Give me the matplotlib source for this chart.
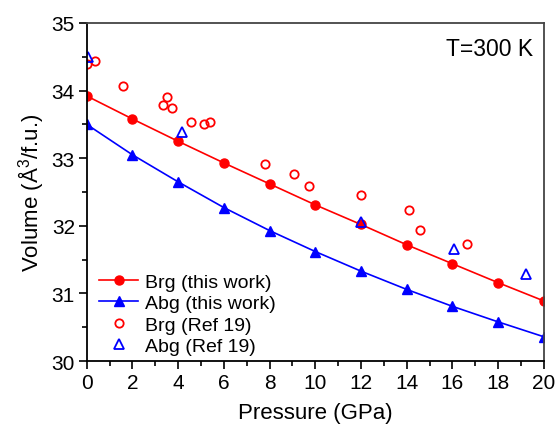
import matplotlib.pyplot as plt
from matplotlib.ticker import MultipleLocator

plt.rcParams['font.family'] = ['Liberation Sans', 'DejaVu Sans']
plt.rcParams['mathtext.fontset'] = 'custom'
plt.rcParams['mathtext.rm'] = 'Liberation Sans'

# this work
pressure = [0, 2, 4, 6, 8, 10, 12, 14, 16, 18, 20]
brg_vol = [33.92, 33.58, 33.25, 32.93, 32.62, 32.31, 32.02, 31.72, 31.44, 31.16, 30.89]
abg_vol = [33.50, 33.05, 32.65, 32.27, 31.93, 31.62, 31.33, 31.06, 30.81, 30.58, 30.36]

# Ref 19
brg_ref_p = [0.0, 0.38, 1.59, 3.34, 3.53, 3.71, 4.58, 5.12, 5.41, 7.8, 9.09, 9.73, 12.02, 14.09, 14.6, 16.64]
brg_ref_v = [34.39, 34.43, 34.07, 33.78, 33.90, 33.74, 33.54, 33.51, 33.54, 32.91, 32.77, 32.59, 32.45, 32.24, 31.94, 31.73]
abg_ref_p = [0.05, 4.17, 12.02, 16.06, 19.21]
abg_ref_v = [34.49, 33.38, 32.05, 31.66, 31.29]

fig = plt.figure(figsize=(5.56, 4.27), dpi=100)
ax = fig.add_axes([0.156, 0.152, 0.822, 0.792])

ax.plot(pressure, brg_vol, '-o', color='red', lw=1.2, ms=6.5, label='Brg (this work)')
ax.plot(pressure, abg_vol, '-^', color='blue', lw=1.2, ms=7, label='Abg (this work)')
ax.plot(brg_ref_p, brg_ref_v, 'o', mfc='none', mec='red', mew=1.3, ms=6, label='Brg (Ref 19)')
ax.plot(abg_ref_p, abg_ref_v, '^', mfc='none', mec='blue', mew=1.3, ms=7, label='Abg (Ref 19)')

ax.set_xlim(0, 20)
ax.set_ylim(30, 35)
ax.xaxis.set_major_locator(MultipleLocator(2))
ax.xaxis.set_minor_locator(MultipleLocator(1))
ax.yaxis.set_major_locator(MultipleLocator(1))
ax.yaxis.set_minor_locator(MultipleLocator(0.5))
ax.tick_params(which='major', direction='out', length=6, width=1.2, labelsize=15, pad=2.5)
ax.tick_params(which='minor', direction='out', length=3.5, width=1.2)

for s in ['left', 'bottom']:
    ax.spines[s].set_linewidth(1.3)
    ax.spines[s].set_color('black')
for s in ['top', 'right']:
    ax.spines[s].set_linewidth(1.3)
    ax.spines[s].set_color('#444444')

ax.set_xlabel('Pressure (GPa)', fontsize=16, labelpad=7)
ax.set_ylabel('Volume (Å$^3$/f.u.)', fontsize=16, labelpad=4)

ax.text(0.976, 0.958, 'T=300 K', transform=ax.transAxes, ha='right', va='top', fontsize=16.5)

ax.legend(loc='lower left', frameon=False, fontsize=14, handlelength=2.0,
          labelspacing=0.2, handletextpad=0.35, borderaxespad=0.25,
          bbox_to_anchor=(0.0, -0.02))

plt.savefig('out.png', dpi=100)
